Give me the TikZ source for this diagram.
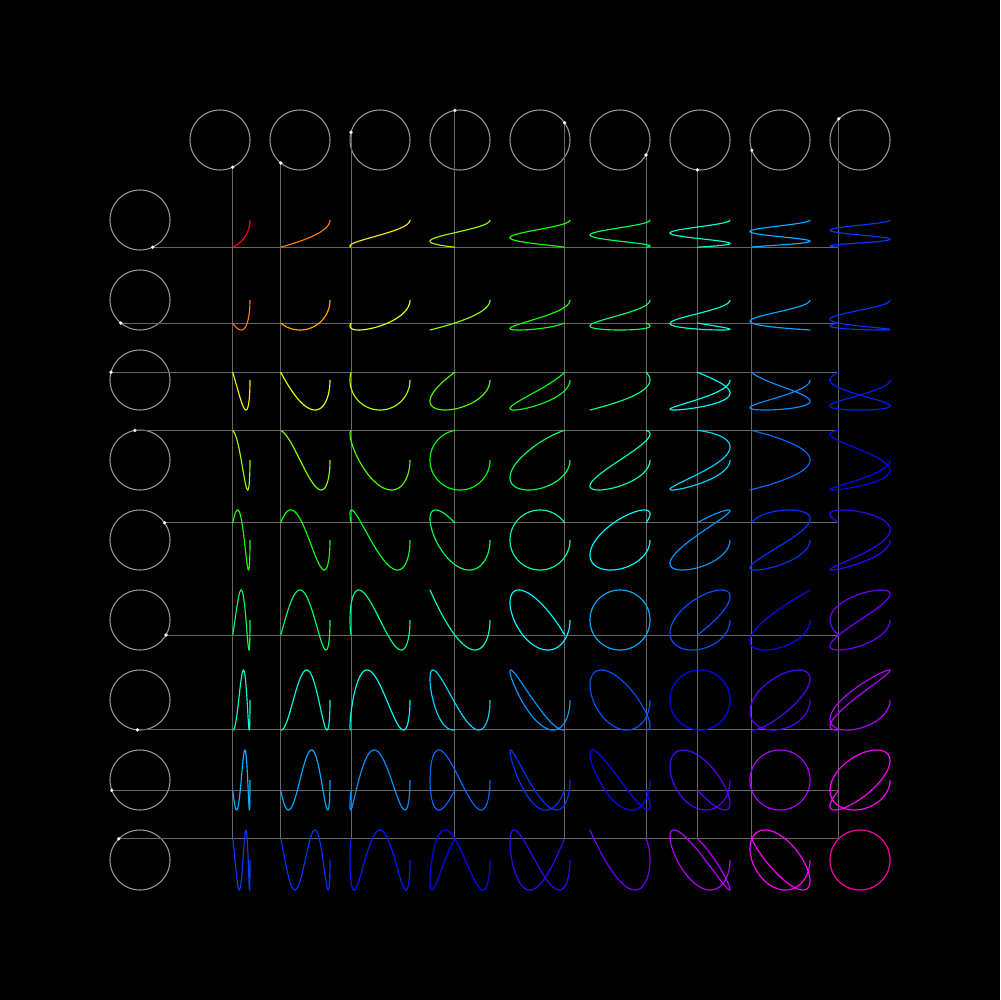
\documentclass[tikz,border=0pt]{standalone}
\usepackage{xcolor}
\usepackage{tikz}

\definecolor{ringgray}{gray}{0.6}
\definecolor{guidegray}{gray}{0.4}
\tikzset{
  ring/.style={ringgray, line width=0.6pt},
  guide/.style={guidegray, line width=0.5pt},
  figure/.style={line width=0.65pt, line join=round},
  penpoint/.style={white},
}
\def\phase{65}

\begin{document}
\begin{tikzpicture}[x=0.02cm, y=-0.02cm]
\fill[black] (0,0) rectangle (1000,1000);
% far ends of the guide lines (last column, last row)
\coordinate (lastx) at ({860+30*cos(9*\phase)},0);
\coordinate (lasty) at (0,{860+30*sin(9*\phase)});
% top row of circles
\foreach \j in {1,...,9} {
  \pgfmathsetmacro{\cx}{140+80*\j}
  \draw[ring] (\cx,140) circle[radius=30];
  \coordinate (topdot\j) at ({\cx+30*cos(\j*\phase)},{140+30*sin(\j*\phase)});
  \draw[guide] (topdot\j) -- (topdot\j |- lasty);
}
% left column of circles
\foreach \i in {1,...,9} {
  \pgfmathsetmacro{\cy}{140+80*\i}
  \draw[ring] (140,\cy) circle[radius=30];
  \coordinate (leftdot\i) at ({140+30*cos(\i*\phase)},{\cy+30*sin(\i*\phase)});
  \draw[guide] (leftdot\i) -- (leftdot\i -| lastx);
}
% the curves
\foreach \i in {1,...,9} {
  \foreach \j in {1,...,9} {
    \pgfmathsetmacro{\cx}{140+80*\j}
    \pgfmathsetmacro{\cy}{140+80*\i}
    \pgfmathsetmacro{\hue}{28.28*sqrt((\i-1)*(\i-1)+(\j-1)*(\j-1))}
    \definecolor{curvecol}{Hsb}{\hue,1,1}
    \draw[figure, curvecol] plot[domain=0:\phase, samples=160, smooth] ({\cx+30*cos(\j*\x)},{\cy+30*sin(\i*\x)});
  }
}
% dots on the circles
\foreach \k in {1,...,9} {
  \fill[penpoint] (topdot\k) circle[radius=1.8];
  \fill[penpoint] (leftdot\k) circle[radius=1.8];
}
\end{tikzpicture}
\end{document}
